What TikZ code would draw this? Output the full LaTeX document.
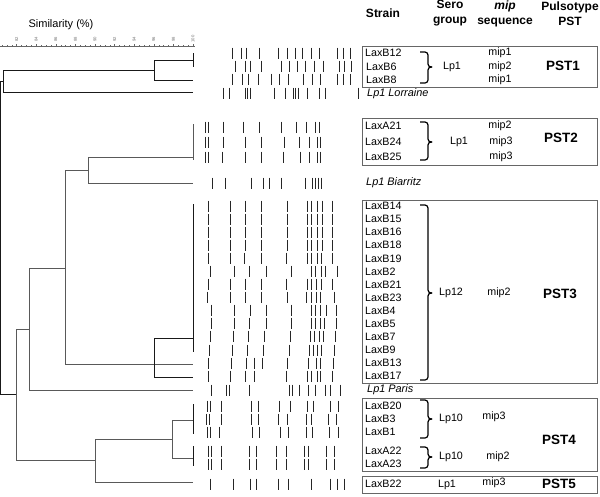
\documentclass[tikz,border=0pt]{standalone}
\usepackage{fontspec}
\setmainfont{Liberation Sans}
\begin{document}
\begin{tikzpicture}[x=1pt,y=-1pt,
  tree/.style={line width=0.95pt, draw=black!90},
  treeg/.style={line width=0.95pt, draw=black!65},
  band/.style={line width=1.0pt, draw=black!85},
  pstbox/.style={draw=black!60, line width=0.9pt},
  brc/.style={line width=1.2pt, draw=black, rounded corners=3pt},
  strain/.style={anchor=west, inner sep=0pt, font=\fontsize{10.7}{12}\selectfont},
  cell/.style={inner sep=0pt, font=\fontsize{10.7}{12}\selectfont},
  hdr/.style={inner sep=0pt, align=center, font=\fontsize{12}{15}\selectfont\bfseries},
  pst/.style={inner sep=0pt, font=\fontsize{13.5}{15}\selectfont\bfseries},
  refst/.style={anchor=west, inner sep=0pt, font=\fontsize{10.9}{12}\selectfont\itshape},
  ticklab/.style={inner sep=0pt, rotate=90, text=black!55, font=\fontsize{4.2}{5}\selectfont},
]
\useasboundingbox (0,0) rectangle (600,496);
\newcommand\gelrow[2]{\foreach \bx in {#2} {\draw[band] (\bx,{#1-5.5}) -- (\bx,{#1+5.5});}}
\newcommand\rbr[4]{% x, top, mid, bottom
  \draw[brc] ({#1-8},#2) -- (#1,#2) -- (#1,#3) -- ({#1+4},#3);
  \draw[brc] ({#1+4},#3) -- (#1,#3) -- (#1,#4) -- ({#1-8},#4);}

% ---------- headers ----------
\node[hdr] (hstrain) at (383,13) {Strain};
\node[hdr] (hsero) at (450,13.5) {Sero\\group};
\node[hdr] (hmip) at (505,13.5) {\textit{mip}\\sequence};
\node[hdr] (hpst) at (570,13.5) {Pulsotype\\PST};
\node[inner sep=0pt, font=\fontsize{11}{13}\selectfont] (simlab) at (61,25) {Similarity (\%)};

% ---------- ruler ----------
\draw[black!60, line width=0.6pt] (0,46) -- (195,46);
\foreach \k in {0,...,39} \draw[black!60, line width=0.4pt] ({193-4.9*\k},46) -- ({193-4.9*\k},44.5);
\foreach \k/\lab in {0/100,1/98,2/96,3/94,4/92,5/90,6/88,7/86,8/84,9/82} {
  \draw[black!60, line width=0.5pt] ({193-19.6*\k},46) -- ({193-19.6*\k},43.5);
  \node[ticklab] at ({193-19.6*\k},39) {\lab};}

% ---------- dendrogram ----------
\draw[tree] (193,53) -- (193,67);
\draw[tree] (193,60) -- (154,60) -- (154,80) -- (193,80);
\draw[tree] (154,70) -- (3,70) -- (3,92) -- (193,92);
\draw[tree] (3,81) -- (0.7,81) -- (0.7,394) -- (16,394);
\draw[treeg] (193,124) -- (193,160);
\draw[treeg] (193,157) -- (88,157) -- (88,183) -- (193,183);
\draw[treeg] (88,170) -- (65,170) -- (65,364) -- (193,364);
\draw[treeg] (65,268) -- (29,268) -- (29,390) -- (193,390);
\draw[treeg] (29,329) -- (16,329) -- (16,460) -- (95,460);
\draw[tree] (193,204) -- (193,352);
\draw[tree] (193,338) -- (154,338) -- (154,377) -- (193,377);
\draw[treeg] (172,439) -- (95,439) -- (95,482) -- (193,482);
\draw[treeg] (193,420) -- (172,420) -- (172,458) -- (193,458);
\draw[tree] (193,404) -- (193,434);
\draw[tree] (193,446) -- (193,466);

% ---------- gel bands ----------
\gelrow{53}{232.3,241.7,246.7,259,278.3,287.3,295.7,302.7,311.7,319.3,337.7,343.3,350}
\gelrow{66}{235,245,250,261,281,289.3,297.7,305,314.3,323.3,339.3,344.3,351.7}
\gelrow{79}{232.3,242.7,248.3,258.3,271.7,279.3,288.3,303.3,312.3,320.7,337.7,343.3,350.7}
\gelrow{93}{223.3,229,245.7,247.9,250.1,274.3,285.7,293.3,295.9,298.5,307.7,319,325.7,358.3}
\gelrow{127}{205,208.3,223.3,243.3,259.3,281.7,296.7,306.7,315,319}
\gelrow{142}{205,208.3,223.3,245.7,261.7,284.3,299,309.3,317.3,320.7}
\gelrow{157}{205,208.3,222.3,245.7,261.7,283.3,300,309.3,317.3,320.7}
\gelrow{183}{212.3,225.7,251,263.3,269,281.7,305,312.7,315.3,318.3,321.7}
\gelrow{206}{208.3,230,245.7,261,287.3,307.3,311.7,317.3,322,332.7}
\gelrow{219}{208.3,230,245.7,261,287.3,307.3,311.7,317.3,322,332.7}
\gelrow{232}{208.3,230,245.7,261,287.3,307.3,311.7,317.3,322,332.7}
\gelrow{245}{208.3,230,245.7,261,287.3,307.3,311.7,317.3,322,332.7}
\gelrow{258}{208.3,230,244.3,261,286.7,307.3,311.7,317.3,321,332.7}
\gelrow{271}{210,234.3,249.3,266,291,311.7,315.7,321,325,337.3}
\gelrow{284}{208.3,230,245,261,286.7,307.3,311,316.7,321,332.7}
\gelrow{297}{207.3,230,245.7,261,287.3,306.7,311,316.7,320.7,334}
\gelrow{310}{211.7,234.3,250.7,266,291,311.7,315.7,320.7,326,336}
\gelrow{323}{211.7,234.3,249.3,266,291,311,315,320,324,336}
\gelrow{336}{210.7,233.3,248.3,264.3,290,310,314.3,319.3,323.3,335}
\gelrow{350}{209.3,232.3,247.7,263.3,289.3,309.3,313.3,317.3,321.7,334.3}
\gelrow{363}{208.3,231,246,254.3,262.3,287.3,308.3,316.7,320,333.3}
\gelrow{376}{208.3,230,245.7,254.3,286,307.3,311.7,317.3,320.7,332.7}
\gelrow{390}{211,226.7,229,249.3,289.3,292.3,299.3,308.3,315.7,325,330.7,340}
\gelrow{406}{207.3,210,221,251,258.3,279,290,307.3,313.3,330.7,338.3}
\gelrow{419}{206.7,209.3,221,251,258.3,278.3,287.3,306,311.7,328.3,336.7}
\gelrow{432}{207.3,210,219.3,252.7,259.3,280,288.3,306.7,312.3,329.3,338.3}
\gelrow{451}{208.3,211.7,221,249.3,256,276.7,286,304,308.3,326,334.3}
\gelrow{464}{208.3,211.7,221,249.3,256,276.7,286,304,308.3,326,334.3}
\gelrow{484}{210,233.3,250,256,278.3,288.3,311.7,330.7,337.7,344}

% ---------- PST boxes ----------
\draw[pstbox] (362,46) rectangle (597,87);
\draw[pstbox] (362,118) rectangle (597,165);
\draw[pstbox] (362,200) rectangle (597,383);
\draw[pstbox] (362,398) rectangle (597,471);
\draw[pstbox] (362,476) rectangle (597,493);

% ---------- PST1 ----------
\node[strain] (lb12) at (365,53) {LaxB12};
\node[strain] (lb6) at (366,67) {LaxB6};
\node[strain] (lb8) at (366,80) {LaxB8};
\rbr{428}{52}{67}{83}
\node[cell] (sg1) at (452,67) {Lp1};
\node[cell] (m1a) at (500,53) {mip1};
\node[cell] (m1b) at (500,67) {mip2};
\node[cell] (m1c) at (500,80) {mip1};
\node[pst] (pst1) at (563,66) {PST1};
\node[refst] (lor) at (367,94) {Lp1 Lorraine};

% ---------- PST2 ----------
\node[strain] (la21) at (365,126) {LaxA21};
\node[strain] (lb24) at (365,142) {LaxB24};
\node[strain] (lb25) at (365,157) {LaxB25};
\rbr{428}{122}{142}{160}
\node[cell] (sg2) at (459,142) {Lp1};
\node[cell] (m2a) at (500,126) {mip2};
\node[cell] (m2b) at (501,142) {mip3};
\node[cell] (m2c) at (501,157) {mip3};
\node[pst] (pst2) at (561,138) {PST2};
\node[refst] (bia) at (366,183) {Lp1 Biarritz};

% ---------- PST3 ----------
\foreach \nm [count=\i from 0] in {LaxB14,LaxB15,LaxB16,LaxB18,LaxB19,LaxB2,LaxB21,LaxB23,LaxB4,LaxB5,LaxB7,LaxB9,LaxB13,LaxB17}
  \node[strain] (p3s\i) at (365,{206+13.08*\i}) {\nm};
\rbr{428}{205}{293}{380}
\node[cell] (sg3) at (451,293) {Lp12};
\node[cell] (m3) at (499,293) {mip2};
\node[pst] (pst3) at (560,294) {PST3};
\node[refst] (par) at (367,390) {Lp1 Paris};

% ---------- PST4 ----------
\node[strain] (lb20) at (365,406) {LaxB20};
\node[strain] (lb3) at (365,419) {LaxB3};
\node[strain] (lb1) at (365,432) {LaxB1};
\node[strain] (la22) at (365,451) {LaxA22};
\node[strain] (la23) at (365,464) {LaxA23};
\rbr{428}{400}{419}{438}
\rbr{428}{447}{457}{468}
\node[cell] (sg4a) at (451,419) {Lp10};
\node[cell] (sg4b) at (451,457) {Lp10};
\node[cell] (m4a) at (494,417) {mip3};
\node[cell] (m4b) at (498,457) {mip2};
\node[pst] (pst4) at (559,440) {PST4};

% ---------- PST5 ----------
\node[strain] (lb22) at (365,484) {LaxB22};
\node[cell] (sg5) at (447,485) {Lp1};
\node[cell] (m5) at (494,483) {mip3};
\node[pst] (pst5) at (559,484) {PST5};
\end{tikzpicture}
\end{document}
